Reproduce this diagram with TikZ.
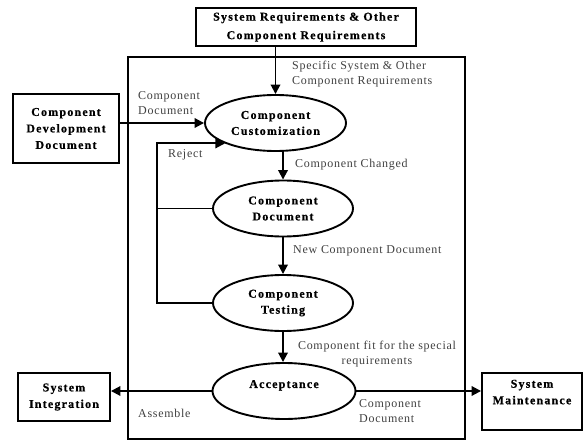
\documentclass[tikz,border=0pt]{standalone}
\usepackage{fontspec}
\setmainfont{Liberation Serif}
\newfontfamily\boxfont[LetterSpace=10,BoldFeatures={FakeBold=0.6}]{Liberation Serif}
\newfontfamily\labfont[LetterSpace=6]{Liberation Serif}
\usetikzlibrary{arrows.meta}
\usetikzlibrary{shapes.geometric}
\usetikzlibrary{positioning}

\begin{document}
\begin{tikzpicture}[x=1pt,y=-1pt,
  box/.style={draw,line width=1.9pt,rectangle,align=center,inner sep=0pt,
    font=\boxfont\bfseries\fontsize{12}{16.5}\selectfont},
  proc/.style={draw,line width=1.9pt,ellipse,align=center,inner sep=0pt,
    minimum width=140pt,minimum height=56pt,
    font=\boxfont\bfseries\fontsize{12}{16}\selectfont},
  lab/.style={inner sep=0pt,align=left,text=black!75,
    font=\labfont\fontsize{12}{15}\selectfont},
  flow/.style={line width=1.9pt,-{Triangle[length=9.5pt,width=9.5pt]}}]

  \useasboundingbox (0,0) rectangle (583,441);

  % outside boxes
  \node [box,minimum width=220pt,minimum height=38pt] (req) at (306,27)
    {System Requirements \& Other\\[2pt]Component Requirements};
  \node [box,minimum width=106pt,minimum height=69pt] (cdd) at (66,128.5)
    {Component\\Development\\Document};
  \node [box,minimum width=92pt,minimum height=48pt] (si) at (64,397)
    {System\\Integration};
  \node [box,minimum width=100pt,minimum height=57pt,text depth=19pt] (sm) at (532,401.5)
    {System\\Maintenance};

  \node [draw,line width=1.9pt,inner sep=0pt,minimum width=337pt,minimum height=382pt] (frame) at (296.5,248) {};

  % the process
  \node [proc,minimum width=141pt] (cust) at (275.5,123) {Component\\Customization};
  \node [proc] (doc) at (283,208.5) {Component\\Document};
  \node [proc] (test) at (283,303) {Component\\Testing};
  \node [proc,minimum width=143pt,text depth=14pt] (acc) at (284,391) {Acceptance};

  \draw [flow] (req.south -| cust.north) -- (cust.north);
  \draw [flow] (cdd.east |- cust.west) -- (cust.west);
  \draw [flow] (cust.south -| doc.north) -- (doc.north);
  \draw [flow] (doc) -- (test);
  \draw [flow] (test.south) -- (test.south |- acc.north);

  % reject loop
  \draw [flow] (test.west) -- ++(-55,0) coordinate (back) |- (cust.202);
  \draw [line width=1.9pt] (doc.west) -- (doc.west -| back);

  \draw [flow] (acc.west) -- (acc.west -| si.east);
  \draw [flow] (acc.east) -- (acc.east -| sm.west);

  % labels
  \node [lab,anchor=west] (specreq) at (292,74.5) {Specific System \& Other\\Component Requirements};
  \node [lab,anchor=west] (cdin) at (138,103.5) {Component\\Document};
  \node [lab,anchor=west] (rej) at (168,155) {Reject};
  \node [lab,anchor=west] (chg) at (295,165) {Component Changed};
  \node [lab,anchor=west] (newdoc) at (293,251) {New Component Document};
  \node [lab,align=center] (fit) at (377,354.5) {Component fit for the special\\requirements};
  \node [lab,anchor=west] (asm) at (138,413) {Assemble};
  \node [lab,anchor=west] (cdout) at (359,411) {Component\\Document};

\end{tikzpicture}
\end{document}
